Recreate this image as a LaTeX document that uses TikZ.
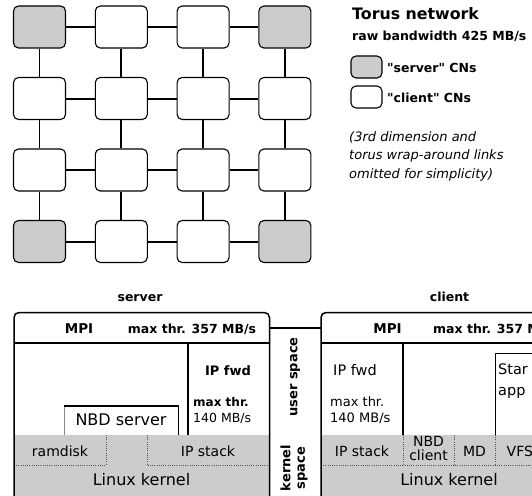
\documentclass[tikz,border=0pt]{standalone}
\usepackage{fontspec}
\setmainfont{DejaVu Sans}[Ligatures=TeXOff]
\definecolor{cngray}{HTML}{CCCCCC}
\definecolor{dotc}{HTML}{555555}
\definecolor{edgegray}{HTML}{888888}
\newcommand\fsz[1]{\fontsize{#1}{#1}\selectfont}
\tikzset{
  cn/.style={draw=black, line width=1.1pt, rounded corners=5pt, minimum width=52pt, minimum height=42pt, inner sep=0pt, fill=white},
  srv/.style={cn, fill=cngray},
  lgbox/.style={draw=black, line width=1.1pt, rounded corners=5pt, minimum width=31pt, minimum height=22pt, inner sep=0pt},
  link/.style={line width=2pt},
  thinlink/.style={line width=1pt},
  boxline/.style={line width=1.5pt},
  sepline/.style={line width=2pt},
  divline/.style={line width=1.2pt},
  dotline/.style={dotc, line width=0.8pt, dash pattern=on 1pt off 1.2pt},
  txt/.style={inner sep=0pt, anchor=base},
  ltxt/.style={inner sep=0pt, anchor=base west},
}
\begin{document}
\begin{tikzpicture}[x=1pt,y=-1pt]
\path[use as bounding box] (0,0) rectangle (532,495);
\clip (0,0) rectangle (532,495);
% ---------- torus grid ----------
\foreach \r/\c/\s in {1/1/srv,1/2/cn,1/3/cn,1/4/srv,
                      2/1/cn,2/2/cn,2/3/cn,2/4/cn,
                      3/1/cn,3/2/cn,3/3/cn,3/4/cn,
                      4/1/srv,4/2/cn,4/3/cn,4/4/srv}
  {\node[\s] (g\r\c) at ({39.5+81.8*(\c-1)},{27+71.5*(\r-1)}) {};}
\foreach \r in {1,...,4}
  \foreach \c/\d in {1/2,2/3,3/4}
    {\draw[link] (g\r\c) -- (g\r\d);}
\foreach \c in {2,3,4}
  \foreach \r/\s in {1/2,2/3,3/4}
    {\draw[link] (g\r\c) -- (g\s\c);}
\foreach \r/\s in {1/2,2/3,3/4}
  {\draw[thinlink] (g\r1) -- (g\s1);}
% ---------- legend ----------
\node[ltxt, font=\bfseries\fsz{15.8}] (title) at (352,20) {Torus network};
\node[ltxt, font=\bfseries\fsz{12.5}] (bw) at (352,40.5) {raw bandwidth 425 MB/s};
\node[lgbox, fill=cngray] (lgs) at (366.5,67) {};
\node[lgbox, fill=white] (lgc) at (366.5,97) {};
\node[ltxt, font=\bfseries\fsz{12.5}] (lgst) at (387,72.5) {"server" CNs};
\node[ltxt, font=\bfseries\fsz{12.5}] (lgct) at (387,102.5) {"client" CNs};
\node[ltxt, font=\itshape\fsz{13}] (note1) at (349,141) {(3rd dimension and};
\node[ltxt, font=\itshape\fsz{13}] (note2) at (349,159.5) {torus wrap-around links};
\node[ltxt, font=\itshape\fsz{13}] (note3) at (349,178) {omitted for simplicity)};
% ---------- server stack ----------
\node[txt, font=\bfseries\fsz{12.5}] (srvlbl) at (140,301) {server};
\fill[cngray] (14,435) rectangle (269.5,500);
\draw[dotline] (106,435) -- (106,465) -- (14,465);
\draw[dotline] (147,435) -- (147,465) -- (269.5,465);
\draw[boxline] (14,500) [rounded corners=5pt] -- (14,312.5) -- (269.5,312.5) -- (269.5,500);
\draw[sepline] (14,343) -- (269.5,343);
\draw[divline] (188,343) -- (188,435);
\draw[edgegray, line width=1pt] (64,406) -- (64,435);
\draw[boxline] (64,406) -- (178.5,406) -- (178.5,435);
\node[txt, font=\bfseries\fsz{13.5}] (smpi) at (79,333) {MPI};
\node[txt, font=\bfseries\fsz{12.5}] (sthr) at (192,333) {max thr. 357 MB/s};
\node[txt, font=\bfseries\fsz{13}] (sipf) at (228,375) {IP fwd};
\node[ltxt, font=\bfseries\fsz{12}] (smax) at (193,406) {max thr.};
\node[ltxt, font=\fsz{12.5}] (s140) at (193,422.5) {140 MB/s};
\node[txt, font=\fsz{16}] (nbds) at (121,425.5) {NBD server};
\node[txt, font=\fsz{14}] (ramd) at (60,456.5) {ramdisk};
\node[txt, font=\fsz{14}] (sips) at (208,456.5) {IP stack};
\node[txt, font=\fsz{16}] (slk) at (141.5,485.5) {Linux kernel};
% ---------- middle ----------
\coordinate (srvR) at (269.5,328);
\coordinate (cliL) at (321,328);
\draw[boxline] (srvR) -- (cliL);
\node[inner sep=0pt, rotate=90, font=\bfseries\fsz{13}] (usp) at (295,377) {user space};
\node[inner sep=0pt, rotate=90, align=center, font=\bfseries\fontsize{13}{14.5}\selectfont] (ksp) at (294,468) {kernel\\space};
% ---------- client stack ----------
\node[txt, font=\bfseries\fsz{12.5}] (clilbl) at (449.5,301) {client};
\fill[cngray] (321,435) rectangle (540,500);
\draw[dotline] (321,465) -- (540,465);
\draw[dotline] (403,435) -- (403,465);
\draw[dotline] (454,435) -- (454,465);
\draw[dotline] (495,435) -- (495,465);
\draw[boxline] (321,500) [rounded corners=5pt] -- (321,312.5) -- (545,312.5);
\draw[sepline] (321,343) -- (545,343);
\draw[divline] (403,343) -- (403,435);
\draw[line width=1pt] (495,435) -- (495,353) -- (545,353);
\node[txt, font=\bfseries\fsz{13.5}] (cmpi) at (387.5,333) {MPI};
\node[ltxt, font=\bfseries\fsz{12.5}] (cthr) at (433,333) {max thr. 357 MB/s};
\node[txt, font=\fsz{14.5}] (cipf) at (355,375) {IP fwd};
\node[ltxt, font=\fsz{13}] (cmax) at (330,406) {max thr.};
\node[ltxt, font=\fsz{13}] (c140) at (330,422.5) {140 MB/s};
\node[ltxt, font=\fsz{14.5}] (star) at (498,374) {Star};
\node[ltxt, font=\fsz{14.5}] (app) at (498,395) {app};
\node[txt, font=\fsz{14}] (cips) at (362,456.5) {IP stack};
\node[txt, font=\fsz{14}] (nbdc1) at (428.5,446.5) {NBD};
\node[txt, font=\fsz{14}] (nbdc2) at (428.5,460.5) {client};
\node[txt, font=\fsz{14}] (md) at (474.5,456.5) {MD};
\node[ltxt, font=\fsz{14}] (vfs) at (506.5,456.5) {VFS};
\node[txt, font=\fsz{16}] (clk) at (449,485.5) {Linux kernel};
\end{tikzpicture}
\end{document}
